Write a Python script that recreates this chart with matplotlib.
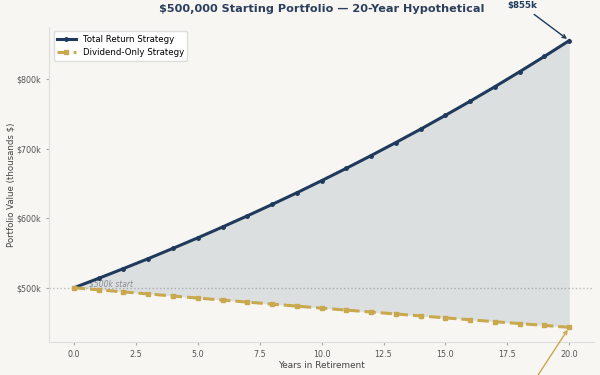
import numpy as np
import matplotlib
matplotlib.use('Agg')
from matplotlib import pyplot as plt

# Portfolio values (thousands $)
years = [0, 1, 2, 3, 4, 5, 6, 7, 8, 9, 10, 11, 12, 13, 14, 15, 16, 17, 18, 19, 20]
total_return = [500.0, 513.6, 527.6, 541.9, 556.7, 571.8, 587.4, 603.4, 619.8, 636.6,
                654.0, 671.8, 690.1, 708.9, 728.1, 748.0, 768.3, 789.2, 810.7, 832.8, 855.4]
dividend_only = [500.0, 497.0, 494.0, 491.1, 488.1, 485.2, 482.3, 479.4, 476.5, 473.6,
                 470.7, 467.9, 465.1, 462.3, 459.5, 456.7, 454.0, 451.2, 448.5, 445.8, 443.1]
y_ticks = [500, 600, 700, 800]

navy = '#1f3a5c'
gold = '#c9a94f'
bg = '#f7f6f2'

fig, ax = plt.subplots(figsize=(6, 3.75), dpi=100)
fig.patch.set_facecolor(bg)
ax.set_facecolor(bg)

# start line + label (sits under the fill)
ax.axhline(500, color='#bbbbbb', linestyle=':', linewidth=1, zorder=1)
ax.text(0.6, 506, '$500k start', color='#999999', fontsize=5.5, style='italic',
        va='center', zorder=1)

ax.fill_between(years, dividend_only, total_return, color=navy, alpha=0.12,
                linewidth=0, zorder=2)

ax.plot(years, total_return, color=navy, linewidth=2.2, marker='o', markersize=2.5,
        label='Total Return Strategy', zorder=3)
ax.plot(years, dividend_only, color=gold, linewidth=2.2, linestyle='--', marker='s',
        markersize=2.5, label='Dividend-Only Strategy', zorder=3)

ax.annotate('$855k', xy=(years[-1], total_return[-1]), xytext=(18.1, 906),
            fontsize=6.3, fontweight='bold', color=navy, ha='center', va='center',
            arrowprops=dict(arrowstyle='->', color=navy, lw=1), annotation_clip=False)
# the label for this one sits below the visible canvas, only the arrow shows
ax.annotate('$443k', xy=(years[-1], dividend_only[-1]), xytext=(18.2, 345),
            fontsize=6.3, fontweight='bold', color=gold, ha='center', va='center',
            arrowprops=dict(arrowstyle='->', color=gold, lw=1), annotation_clip=False)

ax.set_xlim(-1, 21)
ax.set_ylim(422, 875)
ax.set_xticks([0, 2.5, 5, 7.5, 10, 12.5, 15, 17.5, 20])
ax.set_yticks(y_ticks)
ax.set_yticklabels(['$%dk' % v for v in y_ticks])
ax.tick_params(labelsize=5.8, labelcolor='#555555', length=2.5, color='#aaaaaa', pad=3)

ax.set_xlabel('Years in Retirement', fontsize=6.4, color='#444444', labelpad=2)
ax.set_ylabel('Portfolio Value (thousands $)', fontsize=6.2, color='#444444', labelpad=1)
ax.set_title('$500,000 Starting Portfolio \u2014 20-Year Hypothetical', fontsize=8.1,
             fontweight='bold', color='#2c3e5c', pad=11)

for s in ['top', 'right']:
    ax.spines[s].set_visible(False)
for s in ['left', 'bottom']:
    ax.spines[s].set_color('#dddddd')

leg = ax.legend(loc='upper left', fontsize=6.2, frameon=True, facecolor='white',
                edgecolor='#dddddd', framealpha=1, handlelength=2.2)

fig.subplots_adjust(left=0.082, right=0.99, top=0.928, bottom=0.088)
fig.savefig('out.png', facecolor=bg)
